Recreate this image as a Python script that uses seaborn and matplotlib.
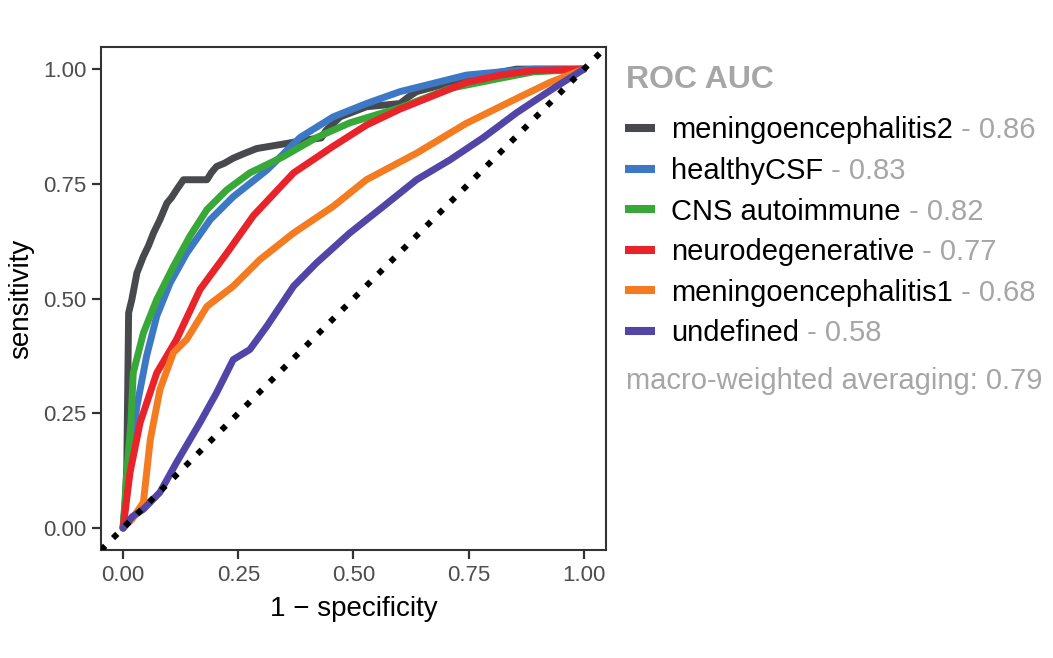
import pandas as pd
import matplotlib
matplotlib.use("Agg")
import matplotlib.pyplot as plt
import seaborn as sns

# ROC curves (x = 1 - specificity, y = sensitivity)
classes = ["meningoencephalitis2", "healthyCSF", "CNS autoimmune",
           "neurodegenerative", "meningoencephalitis1", "undefined"]
auc_values = ["0.86", "0.83", "0.82", "0.77", "0.68", "0.58"]
macro_auc = "0.79"
colors = ["#47494c", "#3d78c6", "#38a838", "#e8232a", "#f47b20", "#5146a8"]

men2_x = [0.0, 0.005, 0.008, 0.012, 0.019, 0.03, 0.044, 0.055, 0.066, 0.08, 0.095,
          0.105, 0.116, 0.131, 0.16, 0.182, 0.192, 0.203, 0.22, 0.239, 0.26, 0.29,
          0.355, 0.398, 0.43, 0.441, 0.471, 0.528, 0.601, 0.62, 0.637, 0.745,
          0.8, 0.854, 0.92, 1.0]
men2_y = [0.0, 0.06, 0.135, 0.469, 0.498, 0.556, 0.592, 0.615, 0.643, 0.672, 0.708,
          0.72, 0.737, 0.759, 0.759, 0.759, 0.775, 0.788, 0.795, 0.806, 0.815, 0.827,
          0.838, 0.846, 0.85, 0.867, 0.896, 0.918, 0.925, 0.94, 0.951, 0.98,
          0.99, 1.0, 1.0, 1.0]

hcsf_x = [0.0, 0.008, 0.015, 0.03, 0.051, 0.073, 0.102, 0.138, 0.189, 0.239, 0.312,
          0.384, 0.456, 0.528, 0.601, 0.673, 0.745, 0.818, 0.89, 1.0]
hcsf_y = [0.0, 0.08, 0.157, 0.266, 0.375, 0.462, 0.534, 0.599, 0.672, 0.722, 0.78,
          0.851, 0.896, 0.925, 0.951, 0.969, 0.987, 0.994, 1.0, 1.0]

cns_x = [0.0, 0.008, 0.017, 0.022, 0.044, 0.073, 0.109, 0.145, 0.182, 0.225, 0.275,
         0.347, 0.42, 0.492, 0.601, 0.709, 0.818, 0.89, 1.0]
cns_y = [0.0, 0.12, 0.23, 0.338, 0.425, 0.498, 0.57, 0.636, 0.694, 0.737, 0.774,
         0.809, 0.851, 0.883, 0.916, 0.958, 0.98, 0.994, 1.0]

neuro_x = [0.0, 0.015, 0.037, 0.073, 0.116, 0.167, 0.225, 0.283, 0.37, 0.456, 0.528,
           0.601, 0.673, 0.745, 0.818, 0.89, 1.0]
neuro_y = [0.0, 0.121, 0.23, 0.338, 0.411, 0.52, 0.599, 0.681, 0.774, 0.832, 0.878,
           0.913, 0.942, 0.971, 0.987, 0.997, 1.0]

men1_x = [0.0, 0.02, 0.044, 0.059, 0.08, 0.109, 0.138, 0.182, 0.239, 0.297, 0.37,
          0.456, 0.528, 0.637, 0.745, 0.854, 0.926, 1.0]
men1_y = [0.0, 0.02, 0.056, 0.193, 0.302, 0.382, 0.411, 0.483, 0.527, 0.585, 0.643,
          0.701, 0.759, 0.817, 0.882, 0.936, 0.971, 1.0]

undef_x = [0.0, 0.02, 0.044, 0.08, 0.116, 0.167, 0.203, 0.239, 0.275, 0.312, 0.37,
           0.42, 0.492, 0.565, 0.637, 0.709, 0.782, 0.854, 0.926, 1.0]
undef_y = [0.0, 0.025, 0.041, 0.078, 0.143, 0.23, 0.295, 0.367, 0.389, 0.44, 0.527,
           0.578, 0.643, 0.701, 0.759, 0.802, 0.851, 0.905, 0.953, 1.0]

curves_x = [men2_x, hcsf_x, cns_x, neuro_x, men1_x, undef_x]
curves_y = [men2_y, hcsf_y, cns_y, neuro_y, men1_y, undef_y]

frames = []
for name, xs, ys in zip(classes, curves_x, curves_y):
    frames.append(pd.DataFrame({"fpr": xs, "tpr": ys, "class": name}))
df = pd.concat(frames, ignore_index=True)

sns.set_style("ticks")
plt.rcParams["font.family"] = ["Liberation Sans", "DejaVu Sans"]

fig = plt.figure(figsize=(10.53, 6.58), dpi=100)
ax = fig.add_axes([0.0959, 0.164, 0.4796, 0.7644])

# reference diagonal
ax.axline((0, 0), slope=1, color="black", lw=4.3, linestyle=(0, (1, 1.85)),
          dash_capstyle="butt", zorder=3)

sns.lineplot(data=df, x="fpr", y="tpr", hue="class", hue_order=classes,
             palette=colors, sort=False, estimator=None, lw=5, ax=ax,
             legend=True, zorder=2)

ax.set_xlim(-0.048, 1.048)
ax.set_ylim(-0.048, 1.048)
ticks = [0.0, 0.25, 0.5, 0.75, 1.0]
ax.set_xticks(ticks)
ax.set_yticks(ticks)
ax.set_xticklabels([f"{t:.2f}" for t in ticks])
ax.set_yticklabels([f"{t:.2f}" for t in ticks])
ax.tick_params(axis="both", labelsize=16, labelcolor="#4d4d4d", color="#333333",
               length=6.5, width=1.6)
ax.tick_params(axis="x", pad=4.5)
ax.tick_params(axis="y", pad=4)
for sp in ax.spines.values():
    sp.set_color("#333333")
    sp.set_linewidth(1.5)
ax.set_xlabel("1 \u2212 specificity", fontsize=20, color="black", labelpad=7)
ax.set_ylabel("sensitivity", fontsize=20, color="black", labelpad=6)

# legend with AUC values in grey
handles, labels = ax.get_legend_handles_labels()
for h in handles:
    h.set_linewidth(5.8)
    h.set_solid_capstyle("butt")
leg = ax.legend(handles, labels, loc="upper left", bbox_to_anchor=(0.5935, 0.823),
                bbox_transform=fig.transFigure, frameon=False, fontsize=21,
                handlelength=1.03, handletextpad=0.55,
                labelspacing=0.43, borderaxespad=0, borderpad=0)
for t in leg.get_texts():
    t.set_color("black")

fig.text(626 / 1053, 1 - 80 / 658, "ROC AUC", fontsize=23, fontweight="bold",
         color="#a6a6a6", ha="left", va="center")

fig.canvas.draw()
renderer = fig.canvas.get_renderer()
for txt, auc in zip(leg.get_texts(), auc_values):
    bb = txt.get_window_extent(renderer)
    fx, fy = fig.transFigure.inverted().transform((bb.x1, bb.y0))
    fig.text(fx, fy, f" - {auc}", fontsize=21, color="#a6a6a6",
             ha="left", va="bottom")

fig.text(626 / 1053, 1 - 381 / 658, f"macro-weighted averaging: {macro_auc}",
         fontsize=21, color="#a6a6a6", ha="left", va="center")

fig.savefig("out.png", dpi=100)
